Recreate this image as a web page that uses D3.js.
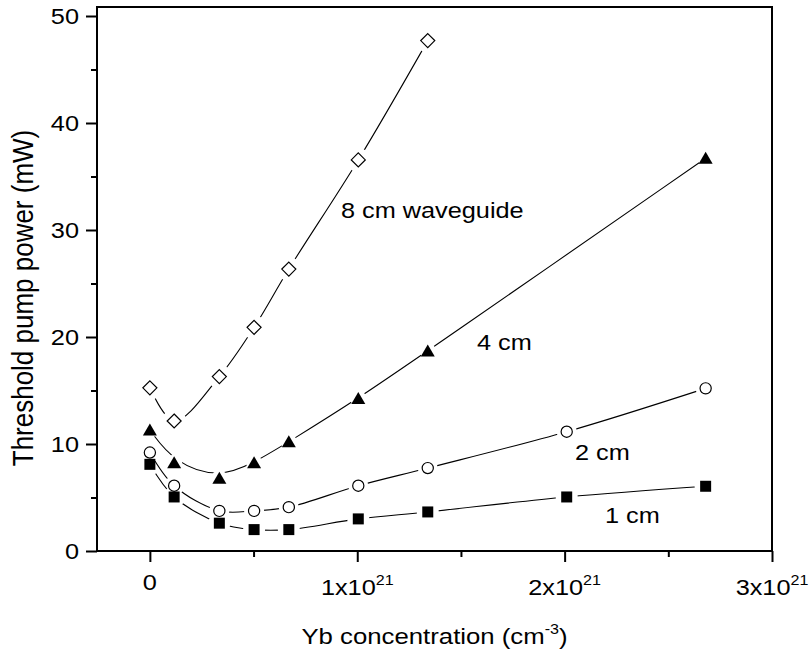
<!DOCTYPE html>
<html><head><meta charset="utf-8">
<script src="https://cdn.jsdelivr.net/npm/d3@7"></script>
<style>
body{margin:0;background:#fff}
text{font-family:"Liberation Sans",Arial,Helvetica,sans-serif;fill:#000}
</style>
</head><body>
<svg id="c" width="810" height="654"></svg>
<script>
// ---- data ----
const concentration = [0, 0.117e21, 0.335e21, 0.5025e21, 0.67e21, 1.005e21, 1.34e21, 2.01e21, 2.68e21];
const wg8cm = [15.25, 12.15, 16.3, 20.9, 26.35, 36.55, 47.7, null, null];
const wg4cm = [11.3, 8.25, 6.8, 8.25, 10.2, 14.25, 18.7, null, 36.7];
const wg2cm = [9.2, 6.1, 3.75, 3.75, 4.1, 6.1, 7.75, 11.15, 15.2];
const wg1cm = [8.1, 5.05, 2.6, 2.0, 2.0, 3.0, 3.65, 5.05, 6.05];
const seriesNames = ["8 cm waveguide", "4 cm", "2 cm", "1 cm"];
const yTicks = [0, 10, 20, 30, 40, 50];
const yMinor = [5, 15, 25, 35, 45];
const xTicks = [0, 1e21, 2e21, 3e21];
const xMinor = [0.5e21, 1.5e21, 2.5e21];
const xTickLabels = [["0", ""], ["1x10", "21"], ["2x10", "21"], ["3x10", "21"]];
const yTickLabels = ["0", "10", "20", "30", "40", "50"];

// ---- layout ----
const svg = d3.select("#c");
const L = 97, R = 772, T = 7, B = 551;
const SX = 1.15; // horizontal text stretch seen in reference
const x = d3.scaleLinear().domain([-0.255e21, 3e21]).range([L, R]);
const y = d3.scaleLinear().domain([0, 50]).range([B, 16]);

// frame
svg.append("rect").attr("x", L).attr("y", T).attr("width", R - L).attr("height", B - T)
  .attr("fill", "none").attr("stroke", "#000").attr("stroke-width", 2);

// axes ticks
const gx = svg.append("g").attr("transform", `translate(0,${B})`)
  .call(d3.axisBottom(x).tickValues(xTicks).tickSize(11).tickFormat(""));
const gxm = svg.append("g").attr("transform", `translate(0,${B})`)
  .call(d3.axisBottom(x).tickValues(xMinor).tickSize(6).tickFormat(""));
const gy = svg.append("g").attr("transform", `translate(${L},0)`)
  .call(d3.axisLeft(y).tickValues(yTicks).tickSize(11).tickFormat(""));
const gym = svg.append("g").attr("transform", `translate(${L},0)`)
  .call(d3.axisLeft(y).tickValues(yMinor).tickSize(6).tickFormat(""));
[gx, gxm, gy, gym].forEach(g => { g.select(".domain").remove(); g.selectAll("line").attr("stroke", "#000").attr("stroke-width", 2); });

// y tick labels
yTicks.forEach((v, i) => {
  svg.append("text").attr("text-anchor", "end").attr("font-size", 22)
    .attr("transform", `translate(79,${y(v) + 8}) scale(${SX},1)`).text(yTickLabels[i]);
});
// x tick labels
xTicks.forEach((v, i) => {
  const t = svg.append("text").attr("text-anchor", "middle").attr("font-size", 22)
    .attr("transform", `translate(${x(v)},${i === 0 ? 590 : 595}) scale(${SX},1)`);
  t.append("tspan").text(xTickLabels[i][0]);
  if (xTickLabels[i][1]) t.append("tspan").attr("font-size", 14).attr("dy", -10).text(xTickLabels[i][1]);
});

// axis titles
const xt = svg.append("text").attr("text-anchor", "middle").attr("font-size", 22.4)
  .attr("transform", `translate(${(L + R) / 2},644) scale(${SX},1)`);
xt.append("tspan").text("Yb concentration (cm");
xt.append("tspan").attr("font-size", 14).attr("dy", -10).text("-3");
xt.append("tspan").attr("dy", 10).text(")");

svg.append("text").attr("text-anchor", "middle").attr("font-size", 26)
  .attr("transform", `translate(33,298) scale(${SX},1) rotate(-90)`)
  .text("Threshold pump power (mW)");

// ---- series ----
const series = [
  {vals: wg8cm, shape: "diamond", gap: 12, curve: d3.curveCatmullRom.alpha(0.5)},
  {vals: wg4cm, shape: "triangle", gap: 8, curve: d3.curveBasis},
  {vals: wg2cm, shape: "circle", gap: 10, curve: d3.curveCatmullRom.alpha(0.5)},
  {vals: wg1cm, shape: "square", gap: 11, curve: d3.curveCatmullRom.alpha(0.5)}
];
const defs = svg.append("defs");
series.forEach((s, k) => {
  s.pts = concentration.map((c, i) => ({c, v: s.vals[i]})).filter(d => d.v != null);
  const m = defs.append("mask").attr("id", "m" + k).attr("maskUnits", "userSpaceOnUse")
    .attr("x", 0).attr("y", 0).attr("width", 810).attr("height", 654);
  m.append("rect").attr("width", 810).attr("height", 654).attr("fill", "#fff");
  m.selectAll("circle").data(s.pts).join("circle")
    .attr("cx", d => x(d.c)).attr("cy", d => y(d.v)).attr("r", s.gap).attr("fill", "#000");
  const line = d3.line().x(d => x(d.c)).y(d => y(d.v)).curve(s.curve);
  svg.append("path").attr("d", line(s.pts)).attr("fill", "none").attr("stroke", "#000")
    .attr("stroke-width", 1.1).attr("mask", `url(#m${k})`);
});

const shapes = {
  diamond: "M0,-7L7,0L0,7L-7,0Z",
  triangle: "M0,-6.5L7,5.5L-7,5.5Z",
  square: "M-5.5,-5.5H5.5V5.5H-5.5Z"
};
series.forEach(s => {
  const g = svg.append("g");
  s.pts.forEach(d => {
    if (s.shape === "circle") {
      g.append("circle").attr("cx", x(d.c)).attr("cy", y(d.v)).attr("r", 5.6)
        .attr("fill", "#fff").attr("stroke", "#000").attr("stroke-width", 1.2);
    } else {
      g.append("path").attr("d", shapes[s.shape]).attr("transform", `translate(${x(d.c)},${y(d.v)})`)
        .attr("fill", s.shape === "diamond" ? "#fff" : "#000")
        .attr("stroke", "#000").attr("stroke-width", s.shape === "diamond" ? 1.2 : 0);
    }
  });
});

// series labels
const labelPos = [[341, 218], [477, 350], [575, 460], [605, 523]];
seriesNames.forEach((n, i) => {
  svg.append("text").attr("font-size", 22)
    .attr("transform", `translate(${labelPos[i][0]},${labelPos[i][1]}) scale(${SX},1)`).text(n);
});
</script>
</body></html>
